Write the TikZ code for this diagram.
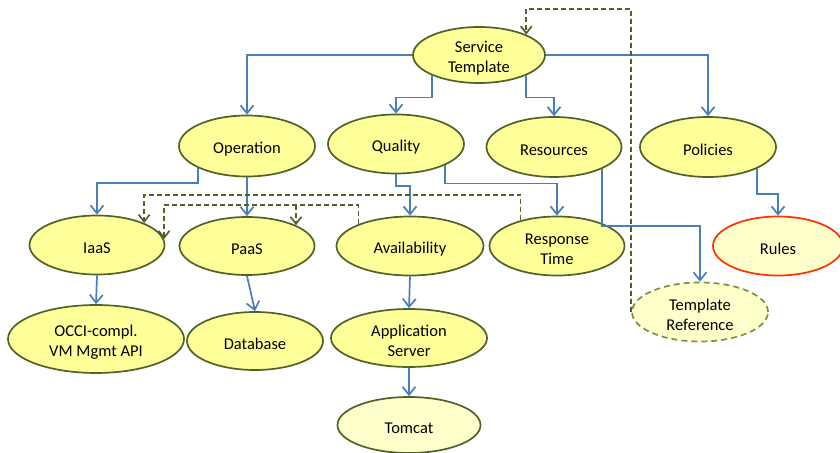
\documentclass[tikz,border=0pt]{standalone}
\usepackage{fontspec}
\setmainfont{Carlito}
\usetikzlibrary{shapes.geometric,arrows.meta}
\definecolor{conceptfill}{HTML}{FFFF99}
\definecolor{palefill}{HTML}{FFFFCC}
\definecolor{rimgreen}{HTML}{4F6228}
\definecolor{softgreen}{HTML}{77933C}
\definecolor{linkblue}{HTML}{4A7EBB}
\definecolor{rulered}{HTML}{FF3300}
\tikzset{
  concept/.style={ellipse, draw=rimgreen, line width=1.7bp, fill=conceptfill,
    inner sep=0pt, minimum width=136bp, minimum height=59bp},
  pale/.style={concept, fill=palefill},
  caption/.style={inner sep=0pt, align=center, yshift=-3bp,
    font=\fontsize{16.5bp}{20bp}\selectfont},
  link/.style={draw=linkblue, line width=1.7bp,
    -{Straight Barb[length=8bp,width=13bp]}},
  refline/.style={draw=rimgreen, line width=1.7bp, dash pattern=on 5bp off 3bp},
  ref/.style={refline, -{Straight Barb[length=7bp,width=11bp]}},
}
\begin{document}
\begin{tikzpicture}[x=1bp, y=-1bp]
\useasboundingbox (0,0) rectangle (840,453);

% concept ellipses
\node[concept, minimum width=132bp, minimum height=56bp] (st) at (479,55) {};
\node[concept, minimum height=61bp] (op) at (247,146) {};
\node[concept] (qu) at (396,144) {};
\node[concept, minimum width=135bp, minimum height=60bp] (re) at (554,147) {};
\node[concept, minimum height=60bp] (po) at (708,147) {};
\node[concept, minimum width=135bp] (ia) at (97,245) {};
\node[concept, minimum width=135bp, minimum height=58bp] (pa) at (247,246) {};
\node[concept, minimum width=147bp] (av) at (410,246) {};
\node[concept, minimum width=135bp] (rt) at (557,246) {};
\node[pale, draw=rulered, minimum width=130bp] (ru) at (778,246) {};
\node[pale, draw=softgreen, dash pattern=on 6bp off 4bp] (tr) at (700,312) {};
\node[concept, minimum width=176bp, minimum height=68bp] (oc) at (96,339) {};
\node[concept, minimum height=58bp] (db) at (255,341) {};
\node[concept, minimum width=156bp, minimum height=58bp] (as) at (409,338) {};
\node[pale, minimum width=143bp, minimum height=56bp] (tc) at (409,425) {};

% ellipse captions
\node[caption] (st-t) at (st) {Service\\Template};
\node[caption] (op-t) at (op) {Operation};
\node[caption] (qu-t) at (qu) {Quality};
\node[caption] (re-t) at (re) {Resources};
\node[caption] (po-t) at (po) {Policies};
\node[caption] (ia-t) at (ia) {IaaS};
\node[caption] (pa-t) at (pa) {PaaS};
\node[caption] (av-t) at (av) {Availability};
\node[caption] (rt-t) at (rt) {Response\\Time};
\node[caption] (ru-t) at (ru) {Rules};
\node[caption] (tr-t) at (tr) {Template\\Reference};
\node[caption] (oc-t) at (oc) {OCCI-compl.\\VM Mgmt API};
\node[caption] (db-t) at (db) {Database};
\node[caption] (as-t) at (as) {Application\\Server};
\node[caption] (tc-t) at (tc) {Tomcat};

% containment links
\draw[link] (st.west) -| (op.north);
\draw[link] (st.south west) -- ++(0,22) -| (qu.north);
\draw[link] (st.south east) -- ++(0,22) -| (re.north);
\draw[link] (st.east) -| (po.north);
\draw[link] (op.south west) -- ++(0,15) -| (ia.north);
\draw[link] (op.south) -- (pa.north);
\draw[link] (qu.south) -- ++(0,12) -| (av.north);
\draw[link] (qu.south east) -- ++(0,18) -| (rt.north);
\draw[link] (re.south east) -- ++(0,57) -| (tr.north);
\draw[link] (po.south east) -- ++(0,25) -| (ru.north);
\draw[link] (ia.south) -- (oc.north);
\draw[link] (pa.south) -- (db.north);
\draw[link] (av.south) -- (as.north);
\draw[link] (as.south) -- (tc.north);

% references
\draw[ref] (tr.west) -- ++(0,-303) -| (st.north east);
\draw[ref] (rt.145) -- ++(0,-25.5) -| (ia.25);
\draw[ref] (av.157) -- ++(0,-19) coordinate (fork) -| (ia.5);
\draw[ref] (fork -| pa.23) -- (pa.23);
\end{tikzpicture}
\end{document}
